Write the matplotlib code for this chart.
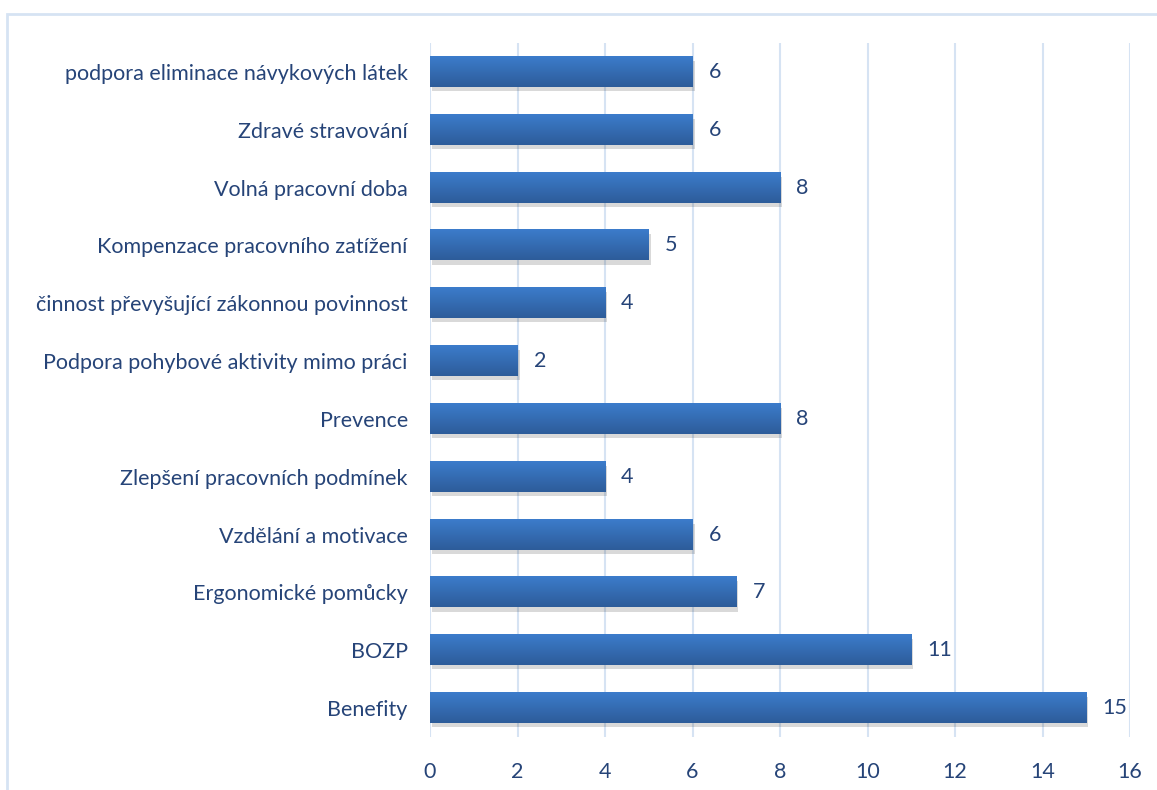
import matplotlib
matplotlib.use("Agg")
import matplotlib.pyplot as plt
from matplotlib.patches import Rectangle
from matplotlib.colors import LinearSegmentedColormap
import numpy as np

categories = [
    "Benefity",
    "BOZP",
    "Ergonomické pomůcky",
    "Vzdělání a motivace",
    "Zlepšení pracovních podmínek",
    "Prevence",
    "Podpora pohybové aktivity mimo práci",
    "činnost převyšující zákonnou povinnost",
    "Kompenzace pracovního zatížení",
    "Volná pracovní doba",
    "Zdravé stravování",
    "podpora eliminace návykových látek",
]
values = [15, 11, 7, 6, 4, 8, 2, 4, 5, 8, 6, 6]
xticks = [0, 2, 4, 6, 8, 10, 12, 14, 16]

text_color = "#264478"
grid_color = "#D6E3F3"
bar_h = 0.52
fs = 15.5

plt.rcParams['font.family'] = ['Lato', 'DejaVu Sans']

fig = plt.figure(figsize=(11.57, 7.90), dpi=100)
ax = fig.add_axes([430 / 1157, 1 - 737 / 790, 700 / 1157, 694 / 790])

# outer chart border
fig.patches.append(Rectangle((7 / 1157, -0.01), 1.0, 1 - 14 / 790 + 0.01,
                             transform=fig.transFigure, fill=False,
                             edgecolor=grid_color, linewidth=2))

grad = LinearSegmentedColormap.from_list("g", ["#2D5C9A", "#3C7CCB"])
ypos = np.arange(len(categories))
for y, v in zip(ypos, values):
    # soft shadow
    ax.add_patch(Rectangle((0.05, y - bar_h / 2 - 0.07), v, bar_h,
                           facecolor="#000000", alpha=0.15, linewidth=0, zorder=2))
    ax.imshow(np.linspace(0, 1, 50).reshape(-1, 1), cmap=grad, aspect="auto",
              extent=(0, v, y - bar_h / 2, y + bar_h / 2), origin="lower",
              zorder=3)
    ax.text(v + 0.37, y, str(v), va="center", ha="left", fontsize=fs,
            color=text_color)

ax.set_xlim(0, 16)
ax.set_ylim(-0.5, len(categories) - 0.5)
ax.set_xticks(xticks)
ax.set_yticks(ypos)
ax.set_yticklabels(categories)
ax.tick_params(axis="both", length=0, labelsize=fs, colors=text_color)
ax.tick_params(axis="x", pad=18)
ax.tick_params(axis="y", pad=16)
ax.xaxis.grid(True, color=grid_color, linewidth=1.5)
ax.set_axisbelow(True)
for s in ax.spines.values():
    s.set_visible(False)

fig.savefig("out.png", dpi=100)
